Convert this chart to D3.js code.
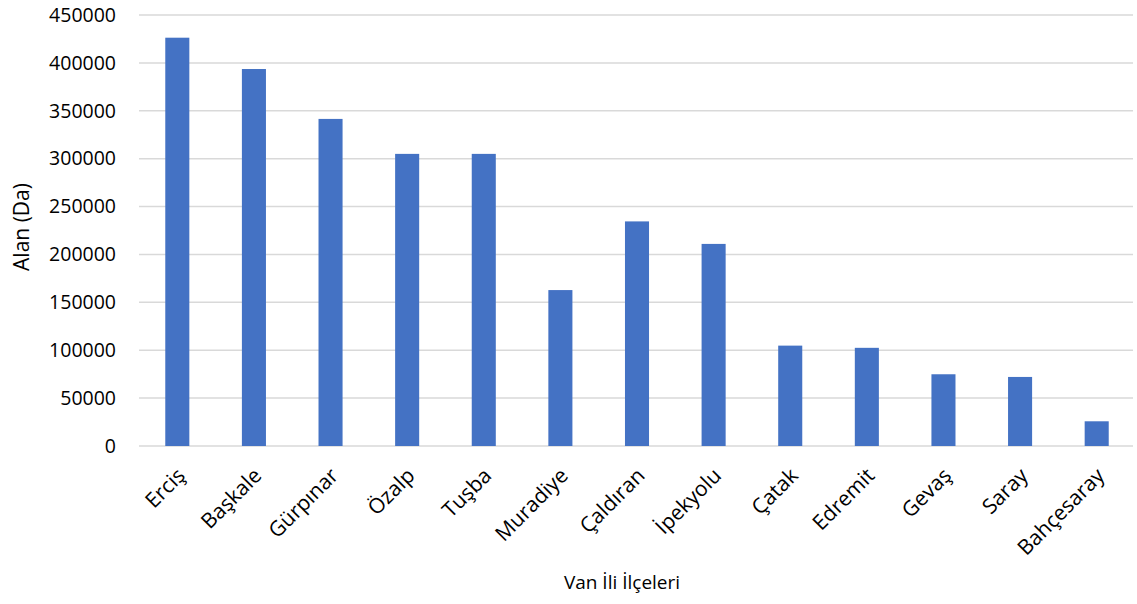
<!DOCTYPE html>
<meta charset="utf-8">
<style>
body { margin: 0; background: #fff; }
text { font-family: "Open Sans", "Noto Sans", sans-serif; fill: #000; }
</style>
<script src="https://d3js.org/d3.v7.min.js"></script>
<div id="chart"></div>
<script>
// districts of Van and their area (Da)
var districts = ["Erciş", "Başkale", "Gürpınar", "Özalp", "Tuşba", "Muradiye", "Çaldıran",
                 "İpekyolu", "Çatak", "Edremit", "Gevaş", "Saray", "Bahçesaray"];
var areas = [426300, 393600, 341500, 305000, 305000, 162800, 234500,
             211000, 104800, 102500, 74900, 72100, 25800];
var yTicks = [0, 50000, 100000, 150000, 200000, 250000, 300000, 350000, 400000, 450000];

var W = 1137, H = 604;
var margin = {top: 15, right: 2, bottom: 158, left: 139};
var width = W - margin.left - margin.right,
    height = H - margin.top - margin.bottom;

var svg = d3.select("#chart").append("svg")
    .attr("width", W).attr("height", H);
var g = svg.append("g")
    .attr("transform", "translate(" + margin.left + "," + margin.top + ")");

var x = d3.scaleBand().domain(districts).range([0, width]).paddingInner(0.686).paddingOuter(0.343);
var y = d3.scaleLinear().domain([0, 450000]).range([height, 0]);

// gridlines
g.selectAll(".grid").data(yTicks).enter().append("line")
    .attr("x1", 0).attr("x2", width - 2)
    .attr("y1", d => y(d)).attr("y2", d => y(d))
    .attr("stroke", "#d9d9d9").attr("stroke-width", 1.5);

// y axis labels
var yAxis = d3.axisLeft(y).tickValues(yTicks).tickSize(0).tickPadding(23)
    .tickFormat(d3.format("d"));
g.append("g").call(yAxis)
    .call(s => s.select(".domain").remove())
    .selectAll("text").style("font-size", "19.5px");

// bars
g.selectAll(".bar").data(districts).enter().append("rect")
    .attr("x", d => x(d))
    .attr("width", x.bandwidth())
    .attr("y", (d, i) => y(areas[i]))
    .attr("height", (d, i) => height - y(areas[i]))
    .attr("fill", "#4472c4");

// x axis labels rotated
var xAxis = d3.axisBottom(x).tickSize(0).tickPadding(0);
g.append("g").attr("transform", "translate(0," + height + ")").call(xAxis)
    .call(s => s.select(".domain").remove())
    .selectAll("text")
    .style("font-size", "21px")
    .style("text-anchor", "end")
    .attr("dy", "0")
    .attr("transform", "translate(9,31) rotate(-45)");

// axis titles
svg.append("text")
    .attr("transform", "translate(29,227) rotate(-90)")
    .attr("text-anchor", "middle")
    .style("font-size", "21px")
    .text("Alan (Da)");

svg.append("text")
    .attr("x", 622)
    .attr("y", 589)
    .attr("text-anchor", "middle")
    .style("font-size", "19px")
    .text("Van İli İlçeleri");
</script>
